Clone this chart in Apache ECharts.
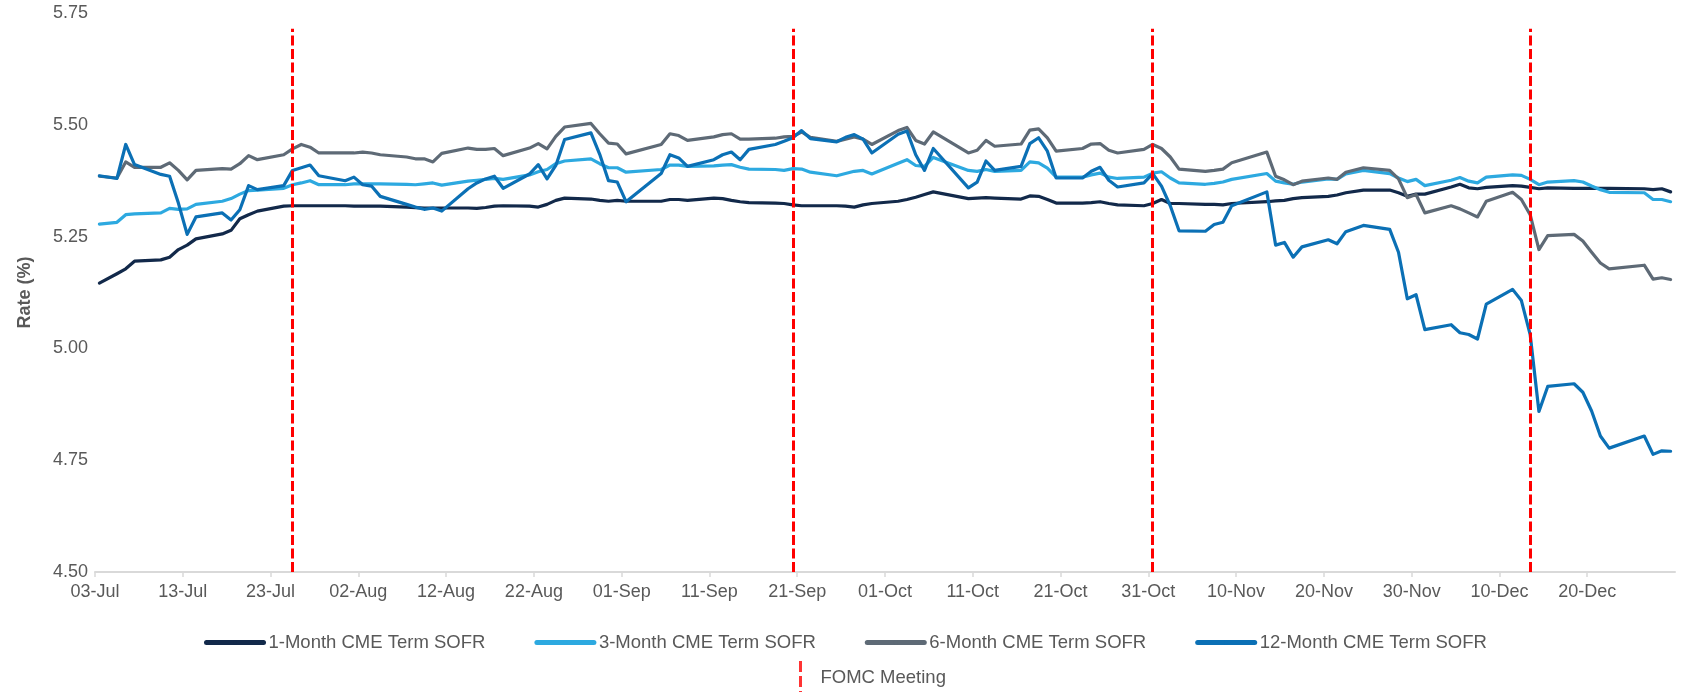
<!DOCTYPE html>
<html>
<head>
<meta charset="utf-8">
<title>CME Term SOFR</title>
<script src="https://cdn.jsdelivr.net/npm/echarts@6/dist/echarts.min.js"></script>
<style>
  html, body { margin: 0; padding: 0; background: #fff; }
  #chart { width: 1685px; height: 692px; }
</style>
</head>
<body>
<div id="chart"></div>
<script>
  // business days, 2023
  var year = 2023;
  var dates = [
    '07-03','07-05','07-06','07-07','07-10','07-11','07-12','07-13','07-14','07-17','07-18','07-19','07-20','07-21','07-24','07-25','07-26','07-27','07-28','07-31',
    '08-01','08-02','08-03','08-04','08-07','08-08','08-09','08-10','08-11','08-14','08-15','08-16','08-17','08-18','08-21','08-22','08-23','08-24','08-25','08-28','08-29','08-30','08-31',
    '09-01','09-05','09-06','09-07','09-08','09-11','09-12','09-13','09-14','09-15','09-18','09-19','09-20','09-21','09-22','09-25','09-26','09-27','09-28','09-29',
    '10-02','10-03','10-04','10-05','10-06','10-10','10-11','10-12','10-13','10-16','10-17','10-18','10-19','10-20','10-23','10-24','10-25','10-26','10-27','10-30','10-31',
    '11-01','11-02','11-03','11-06','11-07','11-08','11-09','11-13','11-14','11-15','11-16','11-17','11-20','11-21','11-22','11-24','11-27','11-28','11-29','11-30',
    '12-01','12-04','12-05','12-06','12-07','12-08','12-11','12-12','12-13','12-14','12-15','12-18','12-19','12-20','12-21','12-22','12-26','12-27','12-28','12-29'
  ];

  var sofr1m = [
    5.146,5.167,5.178,5.195,5.198,5.204,5.221,5.231,5.245,5.256,5.264,5.290,5.299,5.307,5.318,5.319,5.319,5.319,5.319,5.319,
    5.318,5.318,5.318,5.318,5.316,5.315,5.314,5.314,5.314,5.314,5.313,5.315,5.318,5.319,5.318,5.316,5.322,5.331,5.336,5.334,5.331,5.329,5.331,
    5.329,5.329,5.333,5.333,5.331,5.336,5.335,5.331,5.328,5.326,5.325,5.324,5.321,5.319,5.319,5.319,5.318,5.316,5.321,5.324,
    5.329,5.333,5.338,5.344,5.350,5.335,5.336,5.337,5.336,5.334,5.341,5.340,5.333,5.325,5.325,5.326,5.328,5.324,5.321,5.319,5.324,
    5.333,5.324,5.324,5.322,5.322,5.321,5.324,5.328,5.330,5.331,5.335,5.337,5.340,5.343,5.348,5.354,5.354,5.348,5.340,5.345,
    5.345,5.361,5.367,5.359,5.357,5.360,5.364,5.363,5.360,5.357,5.359,5.358,5.358,5.358,5.358,5.358,5.357,5.355,5.357,5.350
  ];
  var sofr3m = [
    5.278,5.282,5.299,5.301,5.303,5.313,5.311,5.312,5.322,5.329,5.335,5.345,5.353,5.354,5.358,5.366,5.370,5.375,5.366,5.366,
    5.368,5.368,5.368,5.368,5.367,5.366,5.368,5.370,5.365,5.374,5.376,5.378,5.380,5.378,5.388,5.395,5.400,5.413,5.419,5.424,5.413,5.404,5.404,
    5.394,5.400,5.410,5.410,5.407,5.408,5.410,5.411,5.405,5.401,5.400,5.398,5.402,5.401,5.394,5.386,5.391,5.396,5.398,5.390,
    5.414,5.422,5.409,5.407,5.427,5.398,5.396,5.400,5.396,5.398,5.417,5.415,5.403,5.383,5.383,5.388,5.392,5.383,5.380,5.383,5.392,
    5.395,5.381,5.370,5.367,5.369,5.372,5.378,5.391,5.374,5.370,5.367,5.372,5.379,5.378,5.390,5.398,5.391,5.381,5.373,5.378,
    5.364,5.376,5.382,5.374,5.370,5.383,5.388,5.387,5.378,5.366,5.372,5.375,5.372,5.363,5.355,5.349,5.348,5.333,5.333,5.328
  ];
  var sofr6m = [
    5.385,5.381,5.417,5.405,5.405,5.415,5.398,5.377,5.398,5.402,5.401,5.413,5.431,5.422,5.433,5.446,5.456,5.450,5.437,5.437,
    5.437,5.439,5.437,5.433,5.428,5.424,5.424,5.417,5.436,5.448,5.445,5.445,5.447,5.431,5.448,5.458,5.446,5.474,5.495,5.503,5.480,5.459,5.457,
    5.435,5.456,5.480,5.476,5.465,5.473,5.478,5.480,5.468,5.468,5.470,5.473,5.474,5.484,5.472,5.463,5.468,5.473,5.468,5.456,
    5.487,5.494,5.465,5.457,5.484,5.437,5.443,5.465,5.452,5.457,5.488,5.491,5.471,5.441,5.447,5.457,5.458,5.443,5.437,5.445,5.456,
    5.447,5.428,5.401,5.396,5.398,5.401,5.415,5.439,5.385,5.377,5.366,5.374,5.381,5.378,5.394,5.404,5.398,5.379,5.337,5.344,
    5.303,5.319,5.312,5.303,5.294,5.329,5.349,5.333,5.299,5.221,5.252,5.255,5.240,5.215,5.191,5.178,5.186,5.155,5.158,5.154
  ];
  var sofr12m = [
    5.386,5.380,5.456,5.411,5.389,5.385,5.325,5.255,5.294,5.303,5.287,5.310,5.364,5.355,5.364,5.398,5.404,5.410,5.386,5.375,
    5.383,5.366,5.363,5.340,5.322,5.316,5.311,5.314,5.307,5.357,5.370,5.379,5.385,5.358,5.390,5.411,5.379,5.409,5.467,5.482,5.434,5.375,5.372,
    5.328,5.391,5.433,5.426,5.407,5.422,5.433,5.439,5.422,5.445,5.456,5.463,5.471,5.487,5.469,5.462,5.472,5.478,5.468,5.437,
    5.479,5.486,5.433,5.398,5.447,5.359,5.372,5.419,5.398,5.407,5.458,5.471,5.441,5.381,5.381,5.396,5.405,5.376,5.361,5.370,5.391,
    5.363,5.319,5.263,5.262,5.277,5.282,5.319,5.350,5.231,5.237,5.204,5.227,5.243,5.234,5.261,5.275,5.266,5.215,5.111,5.120,
    5.042,5.053,5.035,5.031,5.021,5.099,5.132,5.107,5.031,4.859,4.915,4.921,4.902,4.860,4.804,4.777,4.804,4.763,4.771,4.770
  ];

  var fomcDates = ['07-25', '09-20', '10-31', '12-13'];
  var fomcTop = 5.715;

  var yTicks = [4.5, 5.75, 0.25]; // min, max, step
  var months = ['Jan','Feb','Mar','Apr','May','Jun','Jul','Aug','Sep','Oct','Nov','Dec'];
  var base = Date.UTC(year, 6, 3);
  var DAY = 86400000;

  // each date sits in the middle of its day slot
  function xPos(md) {
    var p = md.split('-');
    return (Date.UTC(year, +p[0] - 1, +p[1]) - base) / DAY + 0.5;
  }
  function dayLabel(v) {
    var t = new Date(base + v * DAY);
    var d = t.getUTCDate();
    return (d < 10 ? '0' + d : d) + '-' + months[t.getUTCMonth()];
  }

  var xs = dates.map(xPos);
  function pairs(vals) {
    return vals.map(function (v, i) { return [xs[i], v]; });
  }

  var font = "'Liberation Sans', Arial, sans-serif";
  var grey = '#595959';

  function sofrLine(name, color, vals) {
    return {
      name: name,
      type: 'line',
      data: pairs(vals),
      symbol: 'none',
      showSymbol: false,
      lineStyle: { color: color, width: 3.2, cap: 'round', join: 'round' },
      itemStyle: { color: color },
      emphasis: { disabled: true }
    };
  }

  var myChart = echarts.init(document.getElementById('chart'));
  myChart.setOption({
    animation: false,
    backgroundColor: '#fff',
    textStyle: { fontFamily: font },
    grid: { left: 95, right: 10, top: 13, bottom: 120 },
    xAxis: {
      type: 'value',
      min: 0,
      max: 180,
      interval: 10,
      axisLine: { onZero: false, lineStyle: { color: '#D9D9D9', width: 2 } },
      axisTick: { show: true, length: 5, lineStyle: { color: '#D9D9D9', width: 1.5 } },
      axisLabel: { formatter: dayLabel, color: grey, fontSize: 18, margin: 11, showMaxLabel: false, fontFamily: font },
      splitLine: { show: false }
    },
    yAxis: {
      type: 'value',
      min: yTicks[0],
      max: yTicks[1],
      interval: yTicks[2],
      name: 'Rate (%)',
      nameLocation: 'middle',
      nameRotate: 90,
      nameGap: 61,
      nameTextStyle: { fontWeight: 'bold', fontSize: 18, color: grey, fontFamily: font },
      axisLine: { show: false },
      axisTick: { show: false },
      splitLine: { show: false },
      axisLabel: {
        formatter: function (v) { return v.toFixed(2); },
        color: grey, fontSize: 18, margin: 7, fontFamily: font
      }
    },
    legend: [
      {
        data: ['1-Month CME Term SOFR', '3-Month CME Term SOFR', '6-Month CME Term SOFR', '12-Month CME Term SOFR'],
        left: 199,
        top: 628,
        itemWidth: 57,
        itemHeight: 5,
        itemGap: 49,
        selectedMode: false,
        lineStyle: { width: 5, cap: 'round' },
        textStyle: { color: grey, fontSize: 18.5, fontFamily: font }
      },
      {
        data: [{ name: 'FOMC Meeting', icon: 'path://M0,0h3v11h-3z M0,15h3v11h-3z M0,30h3v4h-3z' }],
        left: 794,
        top: 656,
        itemWidth: 30,
        itemHeight: 34,
        selectedMode: false,
        textStyle: { color: grey, fontSize: 18.5, fontFamily: font }
      }
    ],
    series: [
      sofrLine('1-Month CME Term SOFR', '#12294A', sofr1m),
      sofrLine('3-Month CME Term SOFR', '#2DA9E0', sofr3m),
      sofrLine('6-Month CME Term SOFR', '#5E6A76', sofr6m),
      sofrLine('12-Month CME Term SOFR', '#0B70B5', sofr12m),
      {
        name: 'FOMC Meeting',
        type: 'scatter',
        data: [],
        z: 5,
        itemStyle: { color: '#FF0000' },
        markLine: {
          silent: true,
          symbol: ['none', 'none'],
          label: { show: false },
          emphasis: { disabled: true },
          lineStyle: { color: '#FF0000', width: 3, type: [10, 3.5] },
          data: fomcDates.map(function (md) {
            return [{ coord: [xPos(md), yTicks[0]] }, { coord: [xPos(md), fomcTop] }];
          })
        }
      }
    ]
  });
</script>
</body>
</html>
